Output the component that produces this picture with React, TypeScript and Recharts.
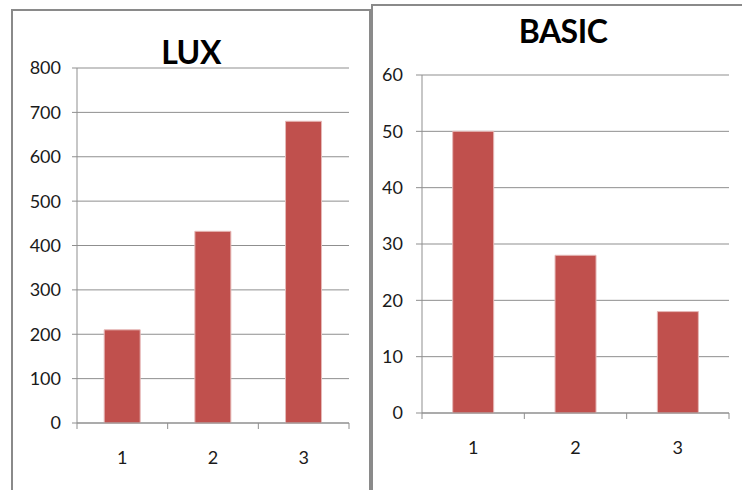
import { BarChart, Bar, XAxis, YAxis, CartesianGrid } from 'recharts';

const categories = ['1', '2', '3'];
const luxValues = [210, 432, 680];
const basicValues = [50, 28, 18];
const luxTicks = [0, 100, 200, 300, 400, 500, 600, 700, 800];
const basicTicks = [0, 10, 20, 30, 40, 50, 60];

const luxData = categories.map((c, i) => ({ name: c, value: luxValues[i] }));
const basicData = categories.map((c, i) => ({ name: c, value: basicValues[i] }));

const BAR = '#C0504D';
const AXIS = '#8f8f8f';
const FONT = 'Lato, sans-serif';
const X_TICK_SIZE = 6;
const X_TICK_MARGIN = 22;

// category-boundary tick marks like Excel, plus the label in the middle
const XTick = (props: any) => {
  const { x, y, payload, index, visibleTicksCount } = props;
  const half = payload?.offset ?? 0;
  const axisY = y - X_TICK_SIZE - X_TICK_MARGIN;
  return (
    <g>
      <line x1={x - half} x2={x - half} y1={axisY} y2={axisY + X_TICK_SIZE} stroke={AXIS} />
      {index === visibleTicksCount - 1 && (
        <line x1={x + half} x2={x + half} y1={axisY} y2={axisY + X_TICK_SIZE} stroke={AXIS} />
      )}
      <text x={x} y={y} dy="0.71em" textAnchor="middle" fill="#1a1a1a" fontSize={18} fontFamily={FONT}>
        {payload.value}
      </text>
    </g>
  );
};

function Panel({ data, ticks, width, margin, yWidth, yMargin, yTickSize }: any) {
  return (
    <BarChart width={width} height={490} data={data} margin={margin} barCategoryGap="30%">
      <CartesianGrid vertical={false} stroke={AXIS} strokeWidth={1} />
      <XAxis
        dataKey="name"
        height={margin.xh}
        axisLine={{ stroke: AXIS }}
        tickLine={false}
        tickSize={X_TICK_SIZE}
        tickMargin={X_TICK_MARGIN}
        tick={<XTick />}
        interval={0}
      />
      <YAxis
        width={yWidth}
        domain={[ticks[0], ticks[ticks.length - 1]]}
        ticks={ticks}
        interval={0}
        axisLine={{ stroke: AXIS }}
        tickLine={{ stroke: AXIS }}
        tickSize={yTickSize}
        tickMargin={yMargin}
        tick={{ fill: '#1a1a1a', fontSize: 18, fontFamily: FONT }}
      />
      <Bar dataKey="value" fill={BAR} stroke="#E6B9B8" strokeWidth={1} isAnimationActive={false} />
    </BarChart>
  );
}

export default function App() {
  return (
    <div style={{ position: 'absolute', left: 0, top: 0, width: 742, height: 490, overflow: 'hidden', background: '#fff' }}>
      <div style={{ position: 'absolute', left: 11, top: 9, width: 356, height: 520, border: '2px solid #8a8a8a' }} />
      <div style={{ position: 'absolute', left: 371, top: 4, width: 400, height: 520, border: '2px solid #8a8a8a' }} />

      <div style={{ position: 'absolute', left: 0, top: 0 }}>
        <Panel
          data={luxData}
          ticks={luxTicks}
          width={371}
          margin={{ top: 68, right: 22, left: 0, bottom: 27, xh: 40 }}
          yWidth={77}
          yMargin={11}
          yTickSize={5}
        />
      </div>
      <div style={{ position: 'absolute', left: 371, top: 0 }}>
        <Panel
          data={basicData}
          ticks={basicTicks}
          width={371}
          margin={{ top: 75, right: 13, left: 0, bottom: 37, xh: 40 }}
          yWidth={51}
          yMargin={13}
          yTickSize={6}
        />
      </div>

      <div style={{ position: 'absolute', left: 91, width: 200, top: 36, textAlign: 'center', fontFamily: FONT, fontWeight: 700, fontSize: 32, lineHeight: '32px', color: '#000', letterSpacing: -0.5 }}>
        LUX
      </div>
      <div style={{ position: 'absolute', left: 463, width: 200, top: 15, textAlign: 'center', fontFamily: FONT, fontWeight: 700, fontSize: 32, lineHeight: '32px', color: '#000', letterSpacing: -0.5 }}>
        BASIC
      </div>
    </div>
  );
}
